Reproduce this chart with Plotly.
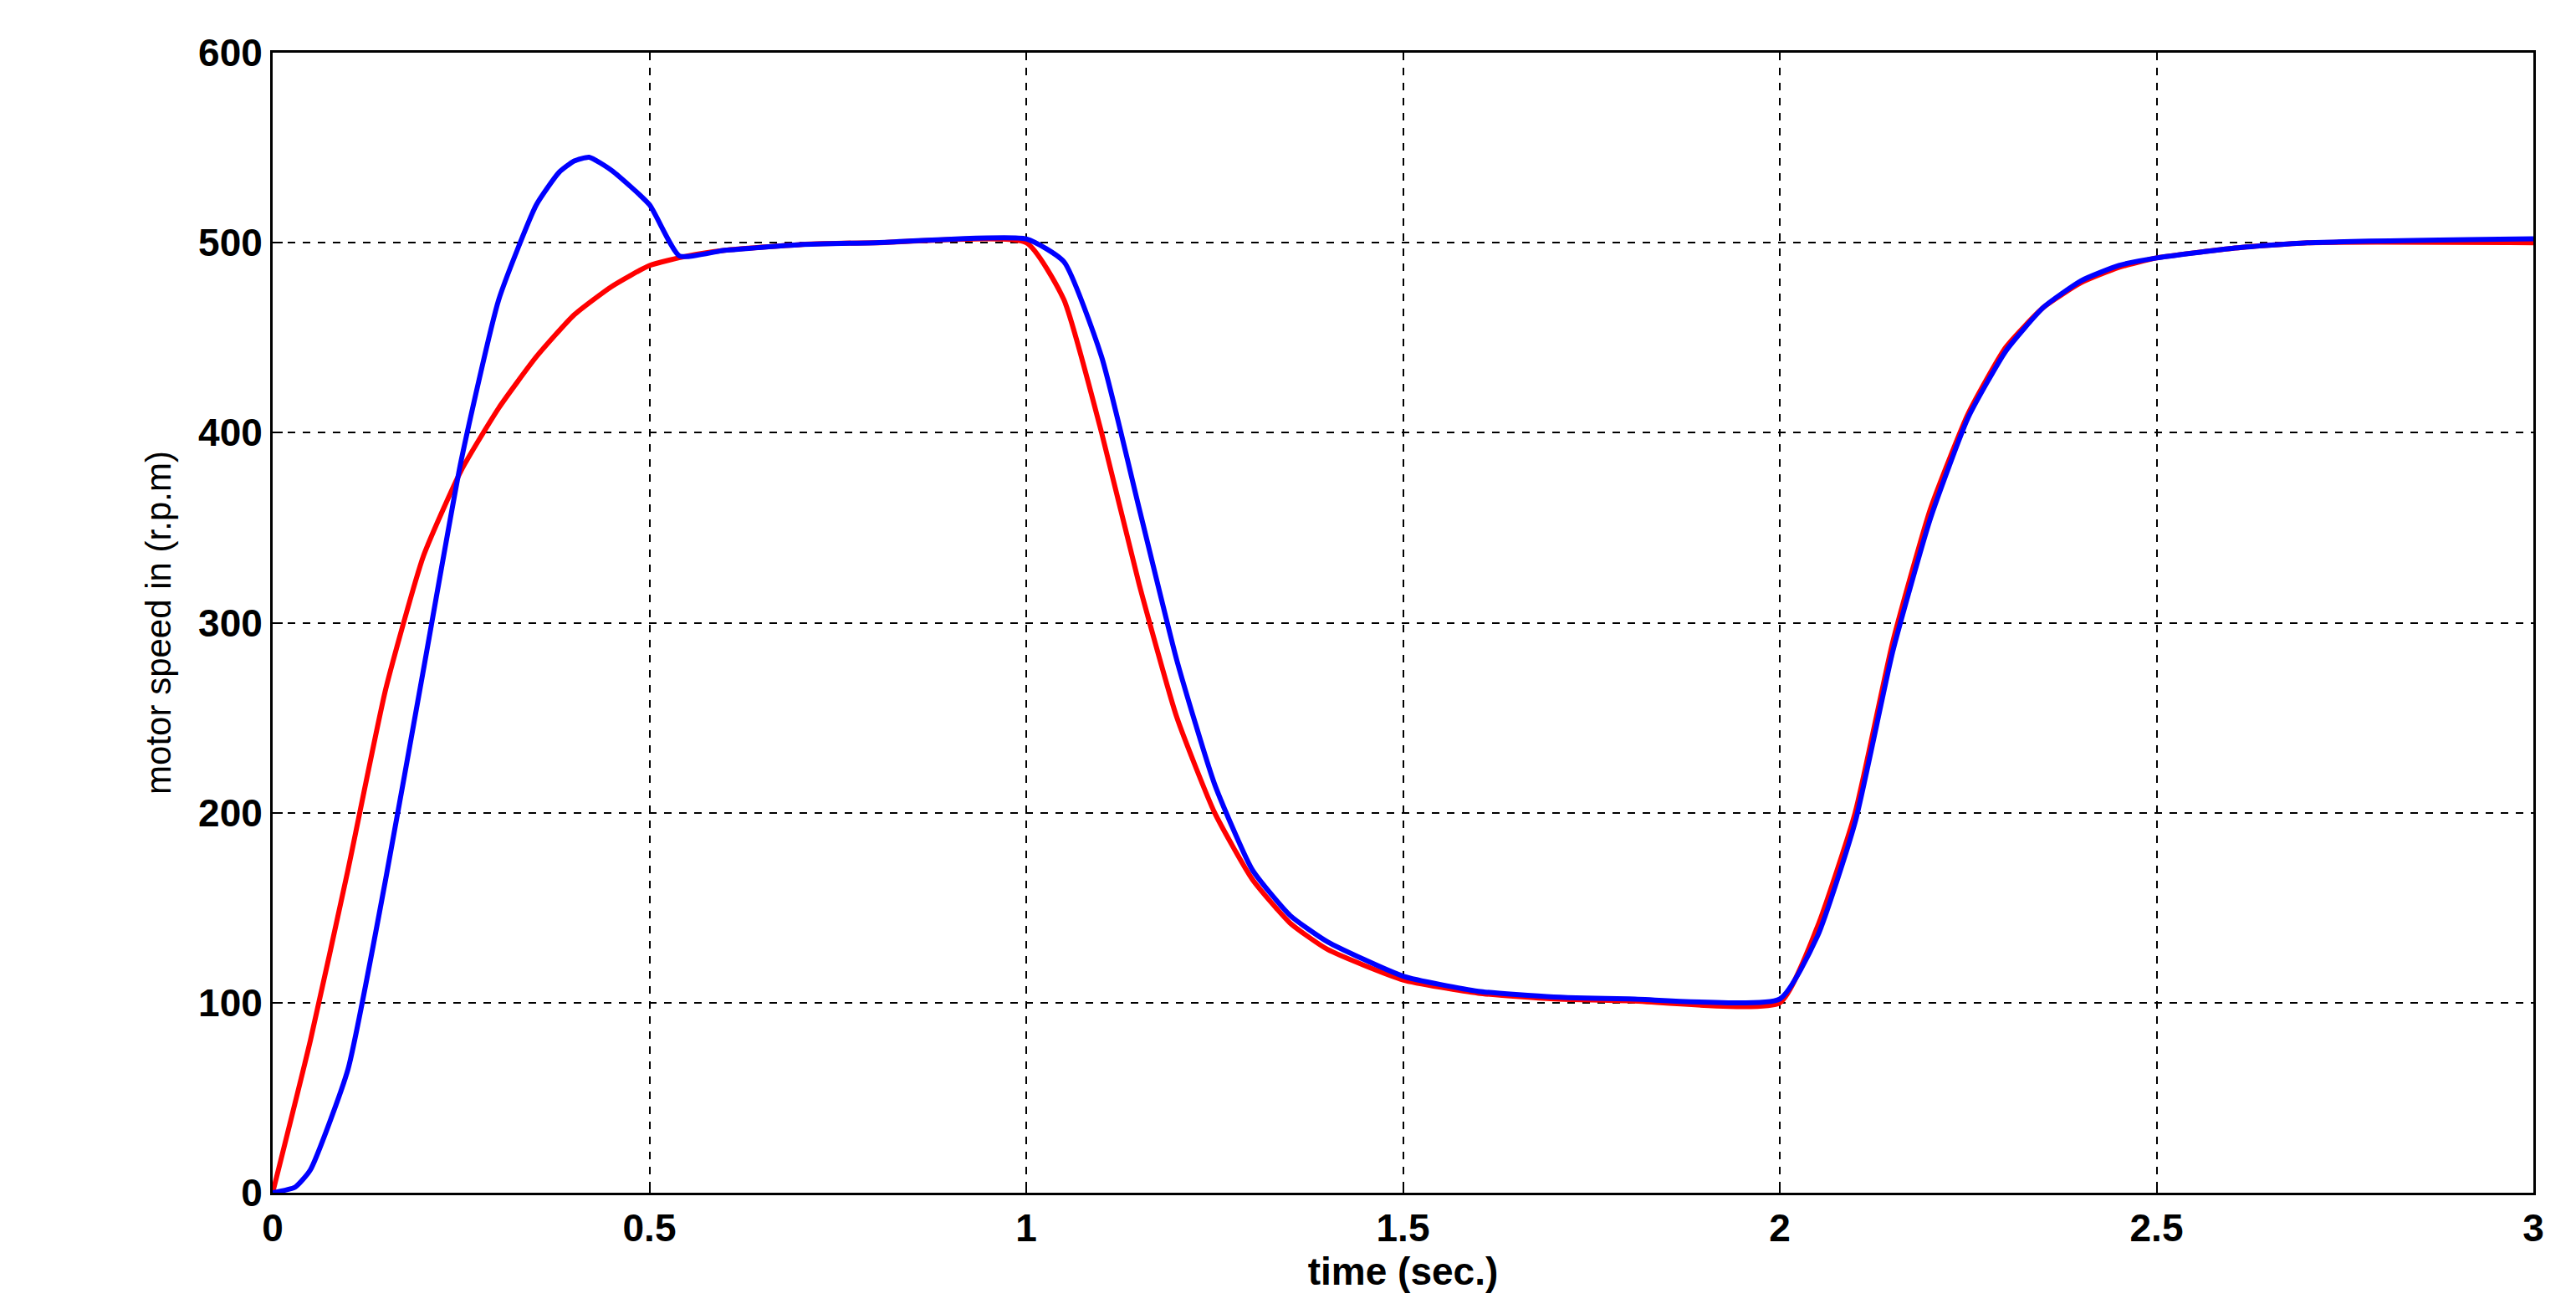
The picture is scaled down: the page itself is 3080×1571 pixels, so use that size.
import plotly.graph_objects as go

t_red = [0,0.05,0.1,0.15,0.2,0.25,0.3,0.35,0.4,0.45,0.5,0.55,0.6,0.7,0.8,1.0,1.05,1.1,1.15,1.2,1.25,1.3,1.35,1.4,1.5,1.6,1.7,1.8,2.0,2.05,2.1,2.15,2.2,2.25,2.3,2.35,2.4,2.45,2.5,2.6,2.7,3.0]
v_red = [0,80,170,265,335,380,413,440,462,477,488,493,496,499,500,500,470,400,320,250,200,165,142,128,112,105,102,101,100,140,200,290,360,410,445,466,479,487,492,497,500,500]
t_blue = [0,0.03,0.05,0.1,0.15,0.2,0.25,0.3,0.35,0.38,0.4,0.42,0.45,0.5,0.54,0.6,0.7,0.8,1.0,1.05,1.1,1.15,1.2,1.25,1.3,1.35,1.4,1.5,1.6,1.7,1.8,2.0,2.05,2.1,2.15,2.2,2.25,2.3,2.35,2.4,2.45,2.5,2.6,2.7,3.0]
v_blue = [0,3,12,65,165,275,385,470,520,537,543,545,538,520,493,496,499,500,502,490,440,360,280,215,170,146,132,114,106,103,102,102,135,195,285,355,408,443,466,480,488,492,497,500,502]

fig = go.Figure()
fig.add_trace(go.Scatter(x=t_red, y=v_red, mode="lines", line=dict(color="#ff0000", width=6, shape="spline", smoothing=0.5), showlegend=False))
fig.add_trace(go.Scatter(x=t_blue, y=v_blue, mode="lines", line=dict(color="#0000ff", width=6, shape="spline", smoothing=0.5), showlegend=False))

ax = dict(showline=True, mirror=True, linecolor="black", linewidth=3, showgrid=True,
          gridcolor="black", griddash="dash", gridwidth=2, zeroline=False, ticks="inside",
          ticklen=12, tickwidth=2, tickcolor="black",
          tickfont=dict(family="Liberation Sans", size=46, color="black", weight="bold"))
fig.update_xaxes(range=[0,3], tickvals=[0,0.5,1,1.5,2,2.5,3], ticktext=["0","0.5","1","1.5","2","2.5","3"],
                 title=dict(text="time (sec.)", font=dict(family="Liberation Sans", size=46, color="black", weight="bold"), standoff=5), **ax)
fig.update_yaxes(range=[0,600], tickvals=[0,100,200,300,400,500,600],
                 title=dict(text="motor speed in (r.p.m)", font=dict(family="Liberation Sans Narrow, Liberation Sans", size=42, color="black"), standoff=20), **ax)
fig.update_layout(width=3080, height=1571, paper_bgcolor="white", plot_bgcolor="white",
                  margin=dict(l=318, r=59, t=55, b=153))
fig.write_html("out.html")
